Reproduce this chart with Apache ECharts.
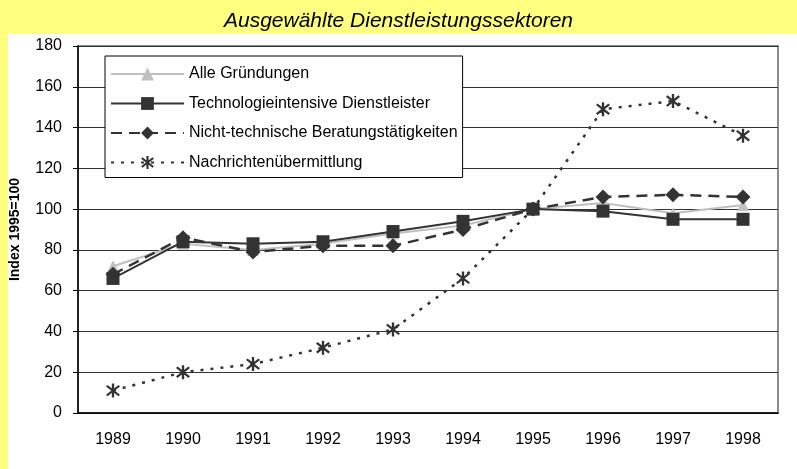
<!DOCTYPE html>
<html>
<head>
<meta charset="utf-8">
<script src="https://cdn.jsdelivr.net/npm/echarts@6/dist/echarts.min.js"></script>
<style>
  html, body { margin: 0; padding: 0; }
  #chart { width: 797px; height: 469px; }
</style>
</head>
<body>
<div id="chart"></div>
<script>
// Kategorien und Werte (Index 1995=100)
var years = ['1989', '1990', '1991', '1992', '1993', '1994', '1995', '1996', '1997', '1998'];
var alleGruendungen = [72, 83, 80, 83, 88, 92, 100, 103, 98, 102];
var technologie = [66, 84, 83, 84, 89, 94, 100, 99, 95, 95];
var beratung = [68, 86, 79, 82, 82, 90, 100, 106, 107, 106];
var nachrichten = [11, 20, 24, 32, 41, 66, 100, 149, 153, 136];

var font = '"Liberation Sans", Arial, sans-serif';
var dark = '#333333';

// Sternchen-Marker (senkrechter Strich + X)
var starPath = 'path://M8.5 0L11.5 0L11.5 20L8.5 20Z' +
  'M1.01 4.13L2.99 1.87L18.99 15.87L17.01 18.13Z' +
  'M1.01 15.87L17.01 1.87L18.99 4.13L2.99 18.13Z';

var chart = echarts.init(document.getElementById('chart'));

var option = {
  backgroundColor: '#ffff80',
  animation: false,
  graphic: [{
    type: 'rect',
    z: -100,
    shape: { x: 8, y: 34, width: 789, height: 435 },
    style: { fill: '#ffffff' }
  }],
  title: {
    text: 'Ausgewählte Dienstleistungssektoren',
    left: 'center',
    top: 6,
    textStyle: {
      fontFamily: font,
      fontStyle: 'italic',
      fontWeight: 'normal',
      fontSize: 21,
      color: '#000'
    }
  },
  legend: {
    orient: 'vertical',
    left: 105,
    top: 56,
    padding: [10, 5, 7, 5],
    itemWidth: 73,
    itemHeight: 16,
    itemGap: 13.5,
    backgroundColor: '#fff',
    borderColor: '#000',
    borderWidth: 1,
    textStyle: { fontFamily: font, fontSize: 16, color: '#000' },
    data: ['Alle Gründungen', 'Technologieintensive Dienstleister',
      'Nicht-technische Beratungstätigkeiten', 'Nachrichtenübermittlung']
  },
  grid: {
    left: 76,
    right: 19,
    top: 46,
    bottom: 56,
    show: true,
    borderColor: '#8c8c8c',
    borderWidth: 2,
    backgroundColor: 'transparent'
  },
  xAxis: {
    type: 'category',
    data: years,
    boundaryGap: true,
    axisLine: { lineStyle: { color: '#000', width: 1.5 } },
    axisTick: { alignWithLabel: false, length: 5, lineStyle: { color: '#000' } },
    axisLabel: { fontFamily: font, fontSize: 16, color: '#000', margin: 19 }
  },
  yAxis: {
    type: 'value',
    min: 0,
    max: 180,
    interval: 20,
    name: 'Index 1995=100',
    nameLocation: 'middle',
    nameGap: 56,
    nameTextStyle: { fontFamily: font, fontSize: 14, fontWeight: 'bold', color: '#000' },
    axisLine: { show: true, lineStyle: { color: '#000', width: 1.5 } },
    axisTick: { show: true, length: 5, lineStyle: { color: '#000' } },
    axisLabel: { fontFamily: font, fontSize: 16, color: '#000', margin: 16 },
    splitLine: { lineStyle: { color: '#333', width: 1 } }
  },
  series: [
    {
      name: 'Alle Gründungen',
      type: 'line',
      data: alleGruendungen,
      symbol: 'triangle',
      symbolSize: 12,
      itemStyle: { color: '#c0c0c0' },
      lineStyle: { color: '#c0c0c0', width: 2 },
      z: 2
    },
    {
      name: 'Technologieintensive Dienstleister',
      type: 'line',
      data: technologie,
      symbol: 'rect',
      symbolSize: 13,
      itemStyle: { color: dark },
      lineStyle: { color: dark, width: 2 },
      z: 4
    },
    {
      name: 'Nicht-technische Beratungstätigkeiten',
      type: 'line',
      data: beratung,
      symbol: 'diamond',
      symbolSize: 15,
      itemStyle: { color: dark },
      lineStyle: { color: dark, width: 2.5, type: [11, 7] },
      z: 3
    },
    {
      name: 'Nachrichtenübermittlung',
      type: 'line',
      data: nachrichten,
      symbol: starPath,
      symbolSize: 14,
      itemStyle: { color: dark },
      lineStyle: { color: dark, width: 2.5, type: [3, 7] },
      z: 3
    }
  ]
};

chart.setOption(option);
</script>
</body>
</html>
